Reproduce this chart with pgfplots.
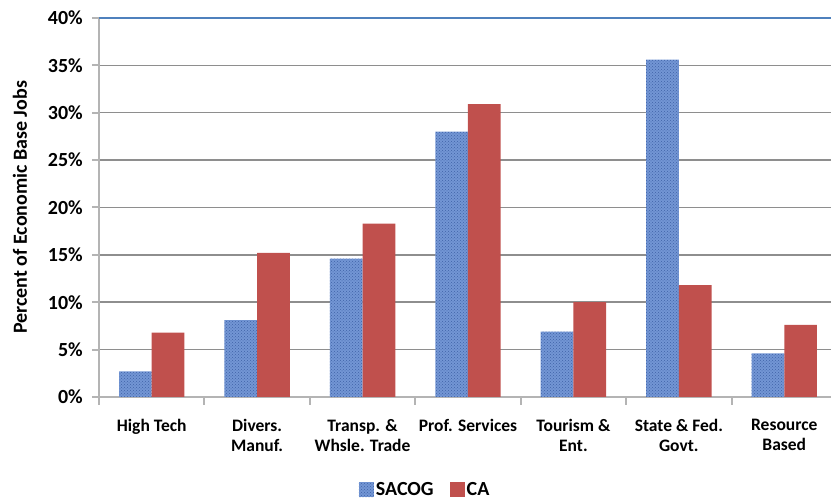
\documentclass[border=0pt]{standalone}
\usepackage{pgfplots}
\pgfplotsset{compat=1.18}
\usepackage{fontspec}
\setmainfont{Carlito}
\usetikzlibrary{patterns}
\definecolor{sacog}{HTML}{7396D4}
\definecolor{sacogdark}{HTML}{3F62A8}
\definecolor{ca}{HTML}{C0504D}
\definecolor{gridgray}{HTML}{8E8E8E}
\definecolor{axisgray}{HTML}{B4B4B4}
\definecolor{topblue}{HTML}{4F81BD}
\begin{document}
\begin{tikzpicture}
\useasboundingbox (-99pt,-103pt) rectangle (732pt,397pt);
\begin{axis}[
  at={(0,0)}, anchor=south west,
  scale only axis, width=738pt, height=379pt,
  xmin=-0.5, xmax=6.5, ymin=0, ymax=40,
  axis x line*=bottom, axis y line*=left,
  axis line style={axisgray, line width=2pt},
  /pgf/number format/assume math mode=true,
  ytick={0,5,...,40},
  yticklabel={\pgfmathprintnumber[assume math mode=true]{\tick}\%},
  yticklabel style={font=\fontsize{20}{20}\selectfont\bfseries, inner sep=0pt, xshift=-9pt},
  xtick={0,...,6},
  xticklabels={High Tech, Divers.\\Manuf., Transp. \&\\Whsle. Trade, Prof. Services, Tourism \&\\Ent., State \& Fed.\\Govt., Resource\\Based},
  xticklabel style={align=center, font=\fontsize{17.5}{20}\selectfont\bfseries, yshift=-12pt},
  major x tick style={draw=none},
  minor xtick={-0.5,0.5,...,5.5},
  minor x tick style={axisgray, line width=2pt},
  minor tick length=8pt,
  major tick length=7pt,
  tick align=outside,
  y tick style={axisgray, line width=2pt},
  ymajorgrids, major grid style={gridgray, line width=1.5pt},
  ylabel={Percent of Economic Base Jobs},
  ylabel style={at={(axis description cs:-0.107,0.5)}, anchor=center, font=\fontsize{20}{20}\selectfont\bfseries},
  legend style={at={(0.442,-0.245)}, anchor=center, draw=none, legend columns=2,
    font=\fontsize{20}{20}\selectfont\bfseries,
    /tikz/every even column/.append style={column sep=14pt}},
  legend image code/.code={\path[#1,draw=none] (0pt,-7.5pt) rectangle (15pt,7.5pt);},
  clip=false,
]
\addplot[ybar, bar width=0.31, bar shift=-0.155, fill=sacog, draw=none,
  postaction={pattern=crosshatch dots, pattern color=sacogdark}]
  coordinates {(0,2.7) (1,8.1) (2,14.6) (3,28.0) (4,6.9) (5,35.6) (6,4.6)};
\addlegendentry{SACOG}
\addplot[ybar, bar width=0.31, bar shift=0.155, fill=ca, draw=none]
  coordinates {(0,6.8) (1,15.2) (2,18.3) (3,30.9) (4,10.0) (5,11.8) (6,7.6)};
\addlegendentry{CA}
\draw[topblue, line width=1.5pt] (axis cs:-0.5,40) -- (axis cs:6.5,40);
\end{axis}
\end{tikzpicture}
\end{document}
